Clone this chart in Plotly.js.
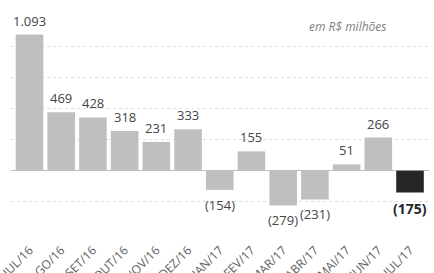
<!DOCTYPE html>
<html><head><meta charset="utf-8">
<script src="https://cdn.plot.ly/plotly-3.0.1.min.js"></script>
<style>html,body{margin:0;padding:0;background:#fff}</style>
</head><body>
<div id="chart" style="width:434px;height:273px"></div>
<script>
const months = ["JUL/16","AGO/16","SET/16","OUT/16","NOV/16","DEZ/16","JAN/17","FEV/17","MAR/17","ABR/17","MAI/17","JUN/17","JUL/17"];
const values = [1093,469,428,318,231,333,-154,155,-279,-231,51,266,-175];
const unitNote = "em R$ milhões";

function fmt(v){
  const a = Math.abs(v);
  const s = a >= 1000 ? Math.floor(a/1000) + "." + String(a%1000).padStart(3,"0") : String(a);
  return v < 0 ? "(" + s + ")" : s;
}
const FONT = "'Open Sans', 'DejaVu Sans', sans-serif";
const last = values.length - 1;
const colors = values.map((v,i)=> i===last ? "#262626" : "#bfbfbf");

const trace = {
  type: "bar", x: months, y: values,
  marker: {color: colors},
  hoverinfo: "none"
};
const labelAnns = values.map((v,i)=>({
  x: months[i], y: v, xref: "x", yref: "y",
  text: i===last ? "<b>"+fmt(v)+"</b>" : fmt(v),
  showarrow: false, xanchor: "center",
  yanchor: v >= 0 ? "bottom" : "top",
  yshift: v >= 0 ? 3 : -4,
  font: {family: FONT, size: i===last ? 14 : 13, color: i===last ? "#262626" : "#454545"}
}));
const layout = {
  width: 434, height: 273,
  margin: {l: 11, r: 5, t: 15, b: 40},
  paper_bgcolor: "#fff", plot_bgcolor: "#fff",
  bargap: 0.13, showlegend: false,
  font: {family: FONT, color: "#595959"},
  xaxis: {type: "category", tickangle: -45, showline: false, ticks: "", showgrid: false,
          ticklabelstandoff: 7,
          tickfont: {size: 12, color: "#606060"}, automargin: false},
  yaxis: {range: [-500, 1250], dtick: 250, showticklabels: false, showgrid: true,
          gridcolor: "#e0e0e0", griddash: "dot", gridwidth: 1,
          zeroline: true, zerolinecolor: "#bdbdbd", zerolinewidth: 1, automargin: false},
  annotations: labelAnns.concat([{text: "<i>" + unitNote + "</i>", xref: "paper", yref: "paper", x: 0.902, y: 0.945,
    xanchor: "right", yanchor: "middle", showarrow: false,
    font: {size: 12, color: "#808080", family: FONT}}])
};
Plotly.newPlot("chart", [trace], layout, {staticPlot: true, displayModeBar: false});
</script>
</body></html>
